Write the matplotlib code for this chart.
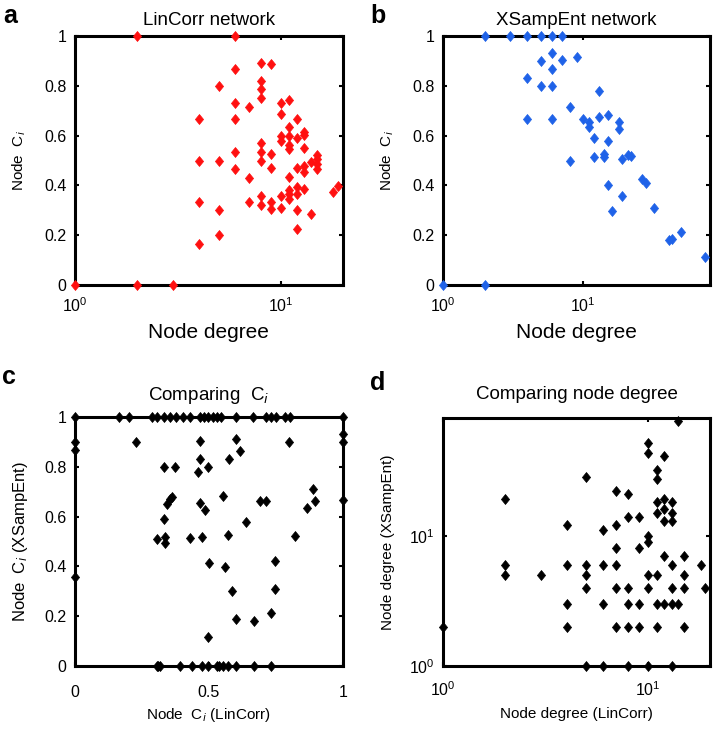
import numpy as np
import matplotlib
matplotlib.use("Agg")
from matplotlib import pyplot as plt
from matplotlib.path import Path

plt.rcParams['font.family'] = ['Liberation Sans', 'DejaVu Sans']
plt.rcParams['mathtext.default'] = 'regular'

# a: LinCorr network, node degree vs clustering coefficient
lin_deg = [1, 2, 2, 3,
           4, 4, 4, 4,
           5, 5, 5, 5,
           6, 6, 6, 6, 6, 6,
           7, 7, 7,
           8, 8, 8, 8, 8, 8, 8, 8, 8,
           9, 9, 9, 9, 9,
           10, 10, 10, 10, 10, 10,
           11, 11, 11, 11, 11, 11, 11, 11, 11,
           12, 12, 12, 12, 12, 12, 12,
           13, 13, 13, 13, 13, 13,
           14, 14,
           15, 15, 15, 15,
           18, 19]
lin_ci = [0, 1, 0, 0,
          0.667, 0.5, 0.333, 0.167,
          0.8, 0.5, 0.3, 0.2,
          1, 0.867, 0.733, 0.667, 0.533, 0.467,
          0.714, 0.429, 0.333,
          0.893, 0.821, 0.786, 0.75, 0.571, 0.536, 0.5, 0.357, 0.321,
          0.889, 0.528, 0.472, 0.333, 0.306,
          0.733, 0.689, 0.6, 0.578, 0.356, 0.311,
          0.745, 0.636, 0.6, 0.564, 0.545, 0.436, 0.382, 0.364, 0.345,
          0.667, 0.591, 0.47, 0.394, 0.364, 0.303, 0.227,
          0.615, 0.603, 0.551, 0.48, 0.455, 0.385,
          0.495, 0.286,
          0.524, 0.505, 0.486, 0.467,
          0.373, 0.398]

# b: XSampEnt network
xs_deg = [1, 2, 2, 3, 4, 5, 6, 7,
          4, 4, 5, 5, 6, 6, 6, 6, 7,
          8, 8, 9, 10, 11, 11, 12, 12, 13, 13, 14, 14,
          15, 15, 15, 16, 18, 18, 19, 19, 21, 22, 26, 28, 32, 41, 43, 50, 74]
xs_ci = [0, 1, 0, 1, 1, 1, 1, 1,
         0.833, 0.667, 0.9, 0.8, 0.933, 0.867, 0.8, 0.667, 0.905,
         0.714, 0.5, 0.917, 0.667, 0.655, 0.636, 0.591, 0.515, 0.78, 0.676, 0.527, 0.515,
         0.683, 0.58, 0.4, 0.298, 0.656, 0.625, 0.508, 0.357, 0.523, 0.518, 0.426, 0.412,
         0.308, 0.181, 0.187, 0.212, 0.114]

# c: Ci LinCorr vs Ci XSampEnt
cmp_ci_lin = [0, 0.165, 0.201, 0.286, 0.305, 0.332, 0.354, 0.377, 0.402, 0.429, 0.466, 0.481,
              0.498, 0.514, 0.531, 0.547, 0.603, 0.666, 0.713, 0.731, 0.752, 0.784, 0.802, 1.0,
              0.305, 0.311, 0.317, 0.394, 0.438, 0.476, 0.498, 0.529, 0.539, 0.554, 0.572, 0.601,
              0.668, 0.734,
              0, 0, 0, 1, 1, 1,
              0.228, 0.466, 0.601, 0.616, 0.799, 0.466, 0.576, 0.333, 0.373, 0.46, 0.498, 0.889,
              0.363, 0.354, 0.345, 0.466, 0.551, 0.69, 0.715, 0.896, 0.867, 0.485, 0.333, 0.637,
              0.305, 0.336, 0.336, 0.429, 0.473, 0.572, 0.821, 0.501, 0.562, 0.746, 0.588, 0.746,
              0.601, 0.668, 0.734, 0.495]
cmp_ci_xs = [1, 1, 1, 1, 1, 1, 1, 1, 1, 1, 1, 1,
             1, 1, 1, 1, 1, 1, 1, 1, 1, 1, 1, 1,
             0, 0, 0, 0, 0, 0, 0, 0, 0, 0, 0, 0,
             0, 0,
             0.898, 0.867, 0.356, 0.93, 0.898, 0.667,
             0.898, 0.904, 0.912, 0.865, 0.898, 0.831, 0.831, 0.798, 0.798, 0.778, 0.798, 0.709,
             0.677, 0.669, 0.651, 0.653, 0.683, 0.664, 0.664, 0.664, 0.636, 0.626, 0.589, 0.577,
             0.509, 0.519, 0.495, 0.515, 0.517, 0.526, 0.523, 0.415, 0.399, 0.423, 0.301, 0.309,
             0.187, 0.181, 0.212, 0.115]

# d: node degree LinCorr vs XSampEnt
cmp_deg_lin = [1, 2, 2, 2, 3,
               4, 4, 4, 4,
               5, 5, 5, 5, 5,
               6, 6, 6, 6,
               7, 7, 7, 7, 7, 7,
               8, 8, 8, 8, 8, 8,
               9, 9, 9, 9,
               10, 10, 10, 10, 10, 10, 10,
               11, 11, 11, 11, 11, 11, 11,
               12, 12, 12, 12, 12, 12,
               13, 13, 13, 13, 13, 13, 13,
               14, 14,
               15, 15, 15, 15,
               18, 19]
cmp_deg_xs = [2, 19, 6, 5, 5,
              12, 6, 3, 2,
              28, 6, 5, 4, 1,
              11, 6, 3, 1,
              22, 12, 8, 6, 4, 2,
              21, 14, 4, 3, 2, 1,
              14, 8, 3, 2,
              51, 43, 10, 9, 5, 4, 1,
              32, 27, 18, 15, 5, 3, 2,
              41, 19, 16, 13, 7, 3,
              18, 15, 13, 6, 4, 3, 1,
              76, 3,
              7, 5, 4, 2,
              6, 4]

red = '#FF1010'
blue = '#1F62E8'
diamond = Path([(0, 1), (0.82, 0), (0, -1), (-0.82, 0), (0, 1)],
               [Path.MOVETO, Path.LINETO, Path.LINETO, Path.LINETO, Path.CLOSEPOLY])
log_labels = ['$10^{0}$', '$10^{1}$']


def style(ax, xpad=6):
    for s in ax.spines.values():
        s.set_linewidth(2.2)
    ax.tick_params(direction='in', length=3, width=1.5, top=True, right=True,
                   labelsize=11.5, pad=6)
    ax.tick_params(axis='x', pad=xpad)
    ax.minorticks_off()


def dots(ax, x, y, color):
    ax.plot(x, y, linestyle='none', marker=diamond, ms=7.2, color=color,
            mec=color, mew=0.5, clip_on=False, zorder=5)


fig = plt.figure(figsize=(7.14, 7.31), dpi=100)

# a
ax = fig.add_axes([0.105, 0.610, 0.375, 0.3406])
dots(ax, lin_deg, lin_ci, red)
ax.set_xscale('log')
ax.set_xlim(1, 20)
ax.set_ylim(0, 1)
ax.set_xticks([1, 10])
ax.set_xticklabels(log_labels)
ax.set_yticks([0, 0.2, 0.4, 0.6, 0.8, 1])
ax.set_yticklabels(['0', '0.2', '0.4', '0.6', '0.8', '1'])
style(ax, xpad=8)
ax.set_title('LinCorr network', fontsize=13.5, pad=8)
ax.set_xlabel('Node degree', fontsize=15, labelpad=6)
ax.set_ylabel('Node  C$_{\\mathit{i}}$', fontsize=11, labelpad=12)

# b
ax = fig.add_axes([0.6204, 0.610, 0.374, 0.3406])
dots(ax, xs_deg, xs_ci, blue)
ax.set_xscale('log')
ax.set_xlim(1, 80)
ax.set_ylim(0, 1)
ax.set_xticks([1, 10])
ax.set_xticklabels(log_labels)
ax.set_yticks([0, 0.2, 0.4, 0.6, 0.8, 1])
ax.set_yticklabels(['0', '0.2', '0.4', '0.6', '0.8', '1'])
style(ax, xpad=8)
ax.set_title('XSampEnt network', fontsize=13.5, pad=8)
ax.set_xlabel('Node degree', fontsize=15, labelpad=6)
ax.set_ylabel('Node  C$_{\\mathit{i}}$', fontsize=11, labelpad=12)

# c
ax = fig.add_axes([0.105, 0.0889, 0.375, 0.3406])
dots(ax, cmp_ci_lin, cmp_ci_xs, 'black')
ax.set_xlim(0, 1)
ax.set_ylim(0, 1)
ax.set_xticks([0, 0.5, 1])
ax.set_xticklabels(['0', '0.5', '1'])
ax.set_yticks([0, 0.2, 0.4, 0.6, 0.8, 1])
ax.set_yticklabels(['0', '0.2', '0.4', '0.6', '0.8', '1'])
style(ax, xpad=14)
ax.set_title('Comparing  C$_{\\mathit{i}}$', fontsize=13.5, pad=12)
ax.set_xlabel('Node  C$_{\\mathit{i}}$ (LinCorr)', fontsize=11, labelpad=4)
ax.set_ylabel('Node  C$_{\\mathit{i}}$ (XSampEnt)', fontsize=12, labelpad=10)

# d
ax = fig.add_axes([0.6204, 0.0889, 0.374, 0.3393])
dots(ax, cmp_deg_lin, cmp_deg_xs, 'black')
ax.set_xscale('log')
ax.set_yscale('log')
ax.set_xlim(1, 20)
ax.set_ylim(1, 80)
ax.set_xticks([1, 10])
ax.set_xticklabels(log_labels)
ax.set_yticks([1, 10])
ax.set_yticklabels(log_labels)
style(ax, xpad=10)
ax.set_title('Comparing node degree', fontsize=13.5, pad=14)
ax.set_xlabel('Node degree (LinCorr)', fontsize=11, labelpad=6)
ax.set_ylabel('Node degree (XSampEnt)', fontsize=11, labelpad=10)

for letter, x, y in [('a', 0.005, 0.995), ('b', 0.518, 0.995),
                     ('c', 0.003, 0.501), ('d', 0.518, 0.493)]:
    fig.text(x, y, letter, fontsize=18, fontweight='bold', va='top', ha='left')

fig.savefig('out.png', dpi=100)
